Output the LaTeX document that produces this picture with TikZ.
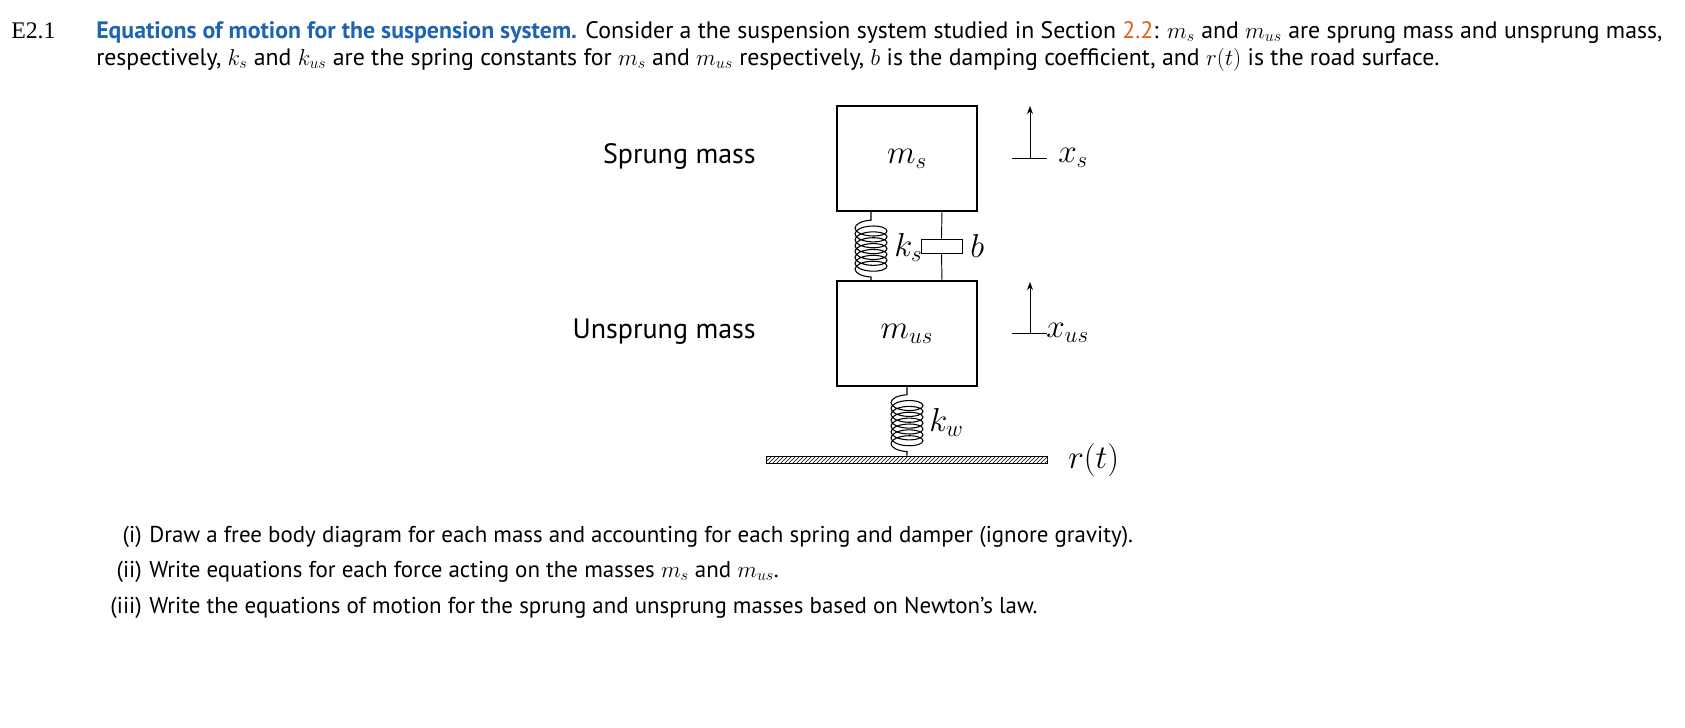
\documentclass[tikz,border=0pt]{standalone}
\usepackage{fontspec}
\setmainfont{PT Sans}
\usetikzlibrary{decorations.pathmorphing,patterns,arrows.meta}
\definecolor{titleblue}{HTML}{1F64B0}
\definecolor{refor}{HTML}{E0601A}
\tikzset{
  massbox/.style={draw,line width=0.8pt},
  txt/.style={anchor=base west,inner sep=0,font=\fontsize{17.85}{20}\selectfont},
  itm/.style={anchor=base west,inner sep=0,font=\fontsize{17.2}{20}\selectfont},
  lbl/.style={inner sep=0,font=\fontsize{21}{24}\selectfont},
  mlbl/.style={inner sep=0,font=\fontsize{24}{28}\selectfont},
  springy/.style={decorate,decoration={coil,aspect=0.4,segment length=4.4pt,amplitude=12pt,pre length=3pt,post length=3pt},line width=0.8pt},
  ln/.style={line width=0.7pt}
}
\begin{document}
\begin{tikzpicture}[x=0.75pt,y=-0.75pt]
\useasboundingbox (0,0) rectangle (1685,728);
% header text
\node[txt] (num) at (11,38) {\fontspec{Liberation Serif}E2.1};
\node[txt] (l1) at (96,38) {\textcolor{titleblue}{\bfseries Equations of motion for the suspension system.} Consider a the suspension system studied in Section \textcolor{refor}{2.2}: $m_s$ and $m_{us}$ are sprung mass and unsprung mass,};
\node[txt] (l2) at (96,65) {respectively, $k_s$ and $k_{us}$ are the spring constants for $m_s$ and $m_{us}$ respectively, $b$ is the damping coefficient, and $r(t)$ is the road surface.};
% items
\node[itm,anchor=base east] (i1) at (142,542) {(i)};
\node[itm] (t1) at (149,542) {Draw a free body diagram for each mass and accounting for each spring and damper (ignore gravity).};
\node[itm,anchor=base east] (i2) at (142,577) {(ii)};
\node[itm] (t2) at (149,577) {Write equations for each force acting on the masses $m_s$ and $m_{us}$.};
\node[itm,anchor=base east] (i3) at (142,613) {(iii)};
\node[itm] (t3) at (149,613) {Write the equations of motion for the sprung and unsprung masses based on Newton's law.};
% diagram
\node[massbox,minimum width=105pt,minimum height=78.75pt,inner sep=0] (ms) at (907,158.5) {};
\node[mlbl] at (ms.center) {$m_s$};
\node[massbox,minimum width=105pt,minimum height=78.75pt,inner sep=0] (mus) at (907,333.5) {};
\node[mlbl] at (mus.center) {$m_{us}$};
\node[lbl,anchor=east] (sl) at (756,156) {Sprung mass};
\node[lbl,anchor=east] (ul) at (756,332) {Unsprung mass};
% ks spring
\coordinate (ks1) at (871,211);
\coordinate (ks2) at (871,281);
\draw[springy] (ks2) -- (ks1);
\node[mlbl,anchor=west] (ksl) at (894,247) {$k_s$};
% damper
\coordinate (d1) at (942,211);
\coordinate (d2) at (942,281);
\node[draw,ln,minimum width=30.75pt,minimum height=10.5pt,inner sep=0] (damp) at (941.5,246) {};
\draw[ln] (d1) -- (damp.north);
\draw[ln] (damp.south) -- (d2);
\node[mlbl,anchor=west] (bl) at (970,246) {$b$};
% ground
\node[draw,ln,pattern=north east lines,minimum width=210.75pt,minimum height=5.25pt,inner sep=0] (gnd) at (906.5,459.5) {};
\coordinate (kw1) at (907,386);
\draw[springy] (gnd.north -| kw1) -- (kw1);
\node[mlbl,anchor=west] (kwl) at (929,422) {$k_w$};
\node[mlbl,anchor=west] (rl) at (1068,460) {$r(t)$};
% arrows
\coordinate (a1) at (1030,158); \coordinate (a1t) at (1030,106);
\draw[ln] (1012,158) -- (1047,158);
\draw[ln,-{Stealth[length=6pt,width=4.5pt]}] (a1) -- (a1t);
\node[mlbl,anchor=west] (xs) at (1058,158) {$x_s$};
\coordinate (a2) at (1030,333); \coordinate (a2t) at (1030,282);
\draw[ln] (1012,333) -- (1047,333);
\draw[ln,-{Stealth[length=6pt,width=4.5pt]}] (a2) -- (a2t);
\node[mlbl,anchor=west] (xu) at (1046,333) {$x_{us}$};
\end{tikzpicture}
\end{document}
